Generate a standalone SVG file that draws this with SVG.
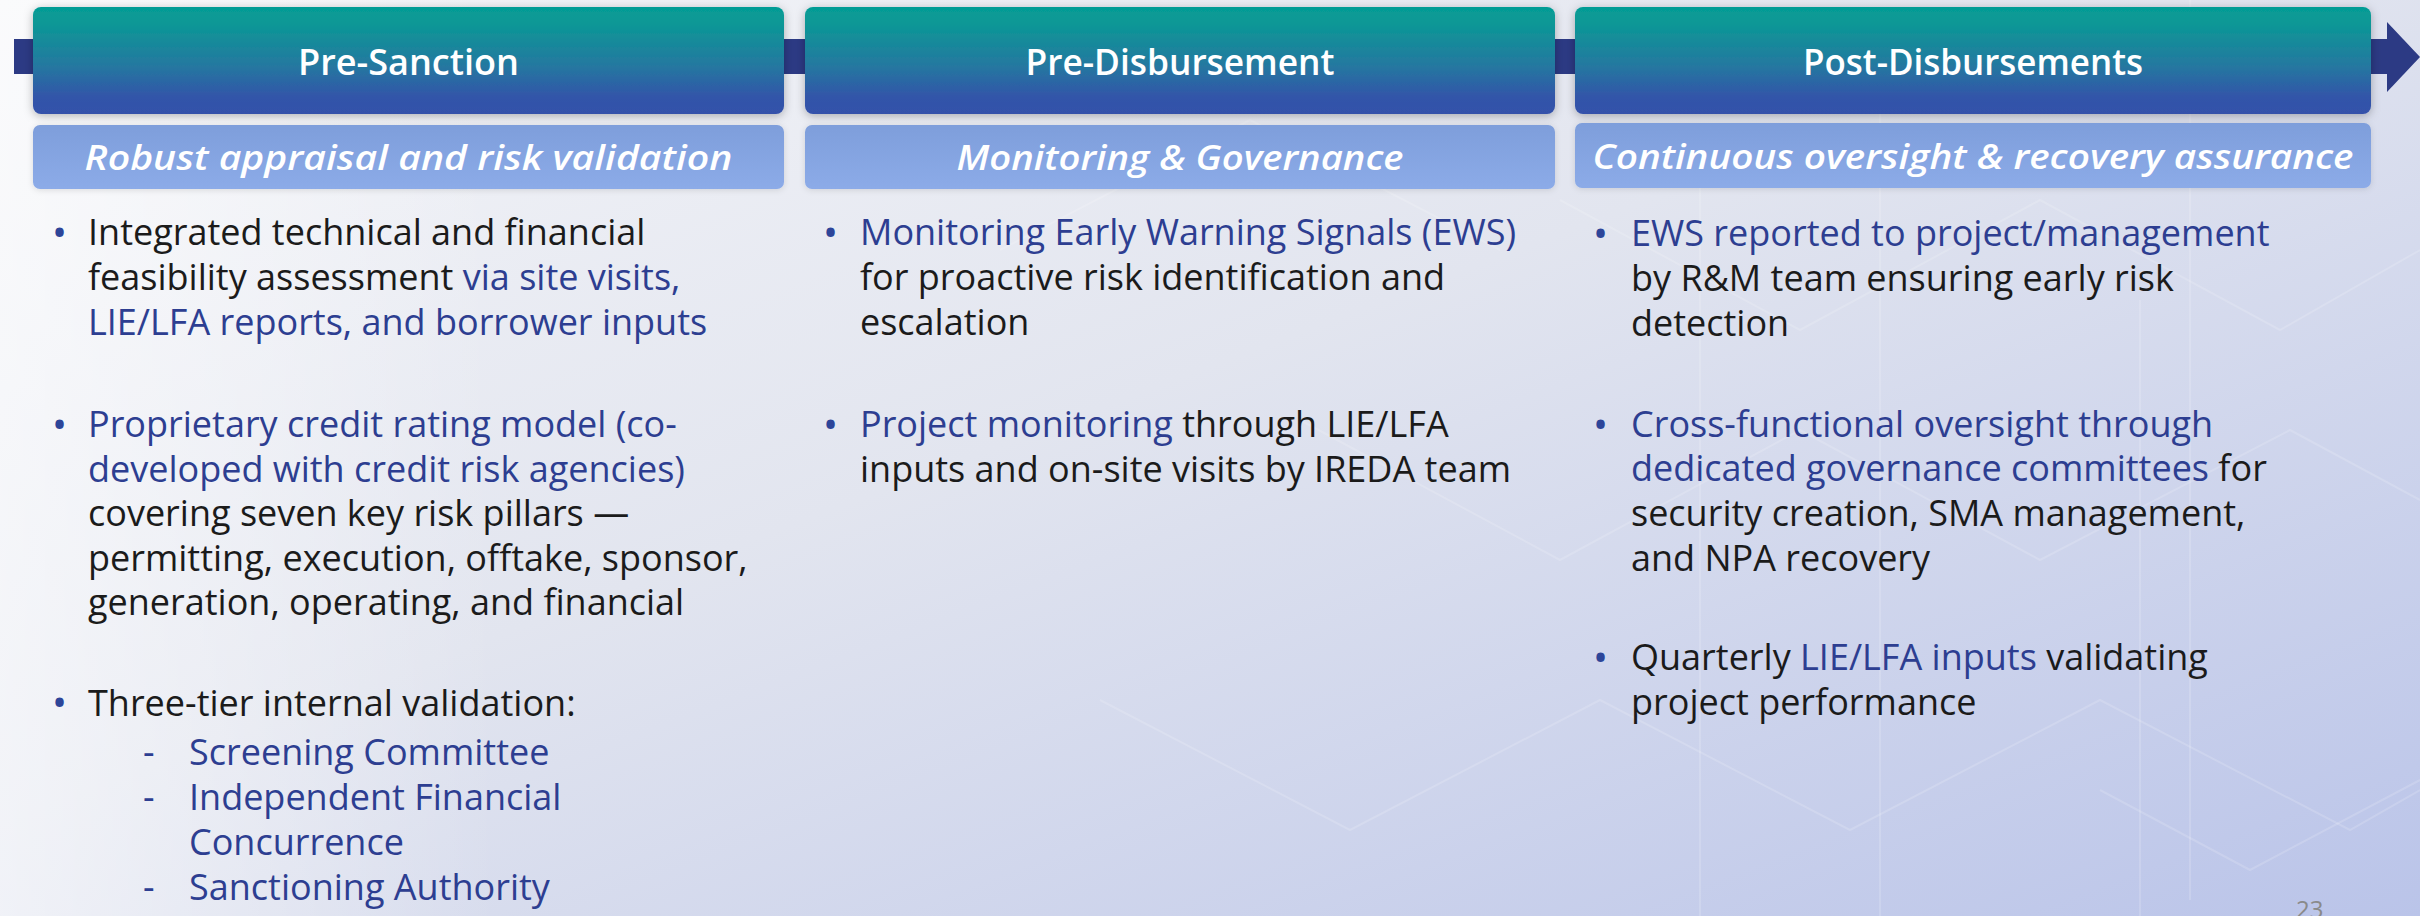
<svg xmlns="http://www.w3.org/2000/svg" width="2420" height="916" viewBox="0 0 2420 916">
  <defs>
    <linearGradient id="bg" x1="0" y1="0" x2="1" y2="1">
      <stop offset="0" stop-color="#f5f6f9"/>
      <stop offset="0.45" stop-color="#e2e5ef"/>
      <stop offset="1" stop-color="#bac4e9"/>
    </linearGradient>
    <linearGradient id="bgLeft" x1="0" y1="0" x2="1" y2="0">
      <stop offset="0" stop-color="#ffffff" stop-opacity="0.55"/>
      <stop offset="1" stop-color="#ffffff" stop-opacity="0"/>
    </linearGradient>
    <linearGradient id="hdr" x1="0" y1="0" x2="0" y2="1">
      <stop offset="0" stop-color="#059c95"/>
      <stop offset="0.15" stop-color="#0b9896"/>
      <stop offset="0.55" stop-color="#2578a0"/>
      <stop offset="0.85" stop-color="#3254a9"/>
      <stop offset="1" stop-color="#3451aa"/>
    </linearGradient>
    <linearGradient id="sub" x1="0" y1="0" x2="0" y2="1">
      <stop offset="0" stop-color="#7e9edb"/>
      <stop offset="1" stop-color="#8cabe8"/>
    </linearGradient>
    <filter id="shadow" x="-5%" y="-20%" width="110%" height="140%">
      <feDropShadow dx="0" dy="2" stdDeviation="5" flood-color="#000000" flood-opacity="0.28"/>
    </filter>
    <filter id="shadow2" x="-5%" y="-20%" width="110%" height="140%">
      <feDropShadow dx="0" dy="1" stdDeviation="3" flood-color="#000000" flood-opacity="0.12"/>
    </filter>
  </defs>
  <style>
    .hdrbox { fill: url(#hdr); filter: url(#shadow); }
    .subbox { fill: url(#sub); filter: url(#shadow2); }
    .hdrtxt { font-family: "Open Sans", "Noto Sans", sans-serif; font-weight: 600; font-size: 36px; fill: #ffffff; text-anchor: middle; }
    .subtxt { font-family: "Open Sans", "Noto Sans", sans-serif; font-weight: 600; font-style: italic; font-size: 35px; fill: #ffffff; text-anchor: middle; }
    .body { font-family: "Open Sans", "Noto Sans", sans-serif; font-size: 36px; fill: #1b1b1b; }
    .hl { fill: #2d3e91; }
    .bul { font-family: "Open Sans", "Noto Sans", sans-serif; font-size: 40px; fill: #2d4599; }
    .dash { font-family: "Open Sans", "Noto Sans", sans-serif; font-size: 36px; fill: #2d3e91; }
    .pat { fill: none; stroke: #ffffff; stroke-opacity: 0.16; stroke-width: 2; }
    .pageno { font-family: "Open Sans", "Noto Sans", sans-serif; font-size: 24px; fill: #8a8a8a; }
  </style>

  <g id="background">
    <rect x="0" y="0" width="2420" height="916" fill="url(#bg)"/>
    <rect x="0" y="0" width="500" height="916" fill="url(#bgLeft)"/>
    <g id="pattern">
      <path class="pat" d="M1700 130 L1700 916 M1880 40 L1880 916 M2140 300 L2140 916 M2190 0 L2190 900"/>
      <path class="pat" d="M1560 200 L1800 330 L2040 200 L2280 330 L2420 250"/>
      <path class="pat" d="M1300 420 L1560 560 L1800 430 L2040 560 L2290 430 L2420 500"/>
      <path class="pat" d="M1100 700 L1350 830 L1600 700 L1850 830 L2100 700 L2350 830 L2420 790"/>
      <path class="pat" d="M2100 790 L2250 870 L2420 780"/>
      <path class="pat" d="M1000 250 L1250 120 L1500 250"/>
    </g>
  </g>

  <g id="connectors">
    <rect x="14" y="39" width="2374" height="35" fill="#2c3a84"/>
    <polygon points="2387,22 2420,57 2387,92" fill="#2c3a84"/>
  </g>

  <g id="pre-sanction">
    <rect class="hdrbox" x="33" y="7" width="751" height="107" rx="8"/>
    <text class="hdrtxt" x="408.5" y="75" textLength="221" lengthAdjust="spacingAndGlyphs">Pre-Sanction</text>
  </g>
  <g id="pre-disbursement">
    <rect class="hdrbox" x="805" y="7" width="750" height="107" rx="8"/>
    <text class="hdrtxt" x="1180" y="75" textLength="309" lengthAdjust="spacingAndGlyphs">Pre-Disbursement</text>
  </g>
  <g id="post-disbursements">
    <rect class="hdrbox" x="1575" y="7" width="796" height="107" rx="8"/>
    <text class="hdrtxt" x="1973" y="75" textLength="340" lengthAdjust="spacingAndGlyphs">Post-Disbursements</text>
  </g>

  <g id="sub-pre-sanction">
    <rect class="subbox" x="33" y="125" width="751" height="64" rx="7"/>
    <text class="subtxt" x="408.5" y="170" textLength="648" lengthAdjust="spacingAndGlyphs">Robust appraisal and risk validation</text>
  </g>
  <g id="sub-pre-disbursement">
    <rect class="subbox" x="805" y="125" width="750" height="64" rx="7"/>
    <text class="subtxt" x="1180" y="170" textLength="447" lengthAdjust="spacingAndGlyphs">Monitoring &amp; Governance</text>
  </g>
  <g id="sub-post-disbursements">
    <rect class="subbox" x="1575" y="123" width="796" height="65" rx="7"/>
    <text class="subtxt" x="1973" y="169" textLength="761" lengthAdjust="spacingAndGlyphs">Continuous oversight &amp; recovery assurance</text>
  </g>

  <g id="col-pre-sanction">
    <text class="bul" x="52" y="247">•</text>
    <text class="body" x="88" y="245">Integrated technical and financial</text>
    <text class="body" x="88" y="290">feasibility assessment <tspan class="hl">via site visits,</tspan></text>
    <text class="body hl" x="88" y="335">LIE/LFA reports, and borrower inputs</text>

    <text class="bul" x="52" y="439">•</text>
    <text class="body hl" x="88" y="437">Proprietary credit rating model (co-</text>
    <text class="body hl" x="88" y="482">developed with credit risk agencies)</text>
    <text class="body" x="88" y="526">covering seven key risk pillars —</text>
    <text class="body" x="88" y="571">permitting, execution, offtake, sponsor,</text>
    <text class="body" x="88" y="615">generation, operating, and financial</text>

    <text class="bul" x="52" y="717">•</text>
    <text class="body" x="88" y="716">Three-tier internal validation:</text>
    <text class="dash" x="143" y="765">-</text>
    <text class="body hl" x="189" y="765">Screening Committee</text>
    <text class="dash" x="143" y="810">-</text>
    <text class="body hl" x="189" y="810">Independent Financial</text>
    <text class="body hl" x="189" y="855">Concurrence</text>
    <text class="dash" x="143" y="900">-</text>
    <text class="body hl" x="189" y="900">Sanctioning Authority</text>
  </g>

  <g id="col-pre-disbursement">
    <text class="bul" x="823" y="247">•</text>
    <text class="body hl" x="860" y="245">Monitoring Early Warning Signals (EWS)</text>
    <text class="body" x="860" y="290">for proactive risk identification and</text>
    <text class="body" x="860" y="335">escalation</text>

    <text class="bul" x="823" y="439">•</text>
    <text class="body" x="860" y="437"><tspan class="hl">Project monitoring</tspan> through LIE/LFA</text>
    <text class="body" x="860" y="482">inputs and on-site visits by IREDA team</text>
  </g>

  <g id="col-post-disbursements">
    <text class="bul" x="1593" y="248">•</text>
    <text class="body hl" x="1631" y="246">EWS reported to project/management</text>
    <text class="body" x="1631" y="291">by R&amp;M team ensuring early risk</text>
    <text class="body" x="1631" y="336">detection</text>

    <text class="bul" x="1593" y="439">•</text>
    <text class="body hl" x="1631" y="437">Cross-functional oversight through</text>
    <text class="body" x="1631" y="481"><tspan class="hl">dedicated governance committees</tspan> for</text>
    <text class="body" x="1631" y="526">security creation, SMA management,</text>
    <text class="body" x="1631" y="571">and NPA recovery</text>

    <text class="bul" x="1593" y="672">•</text>
    <text class="body" x="1631" y="670">Quarterly <tspan class="hl">LIE/LFA inputs</tspan> validating</text>
    <text class="body" x="1631" y="715">project performance</text>
  </g>

  <g id="page-number">
    <text class="pageno" x="2296" y="918">23</text>
  </g>
</svg>
